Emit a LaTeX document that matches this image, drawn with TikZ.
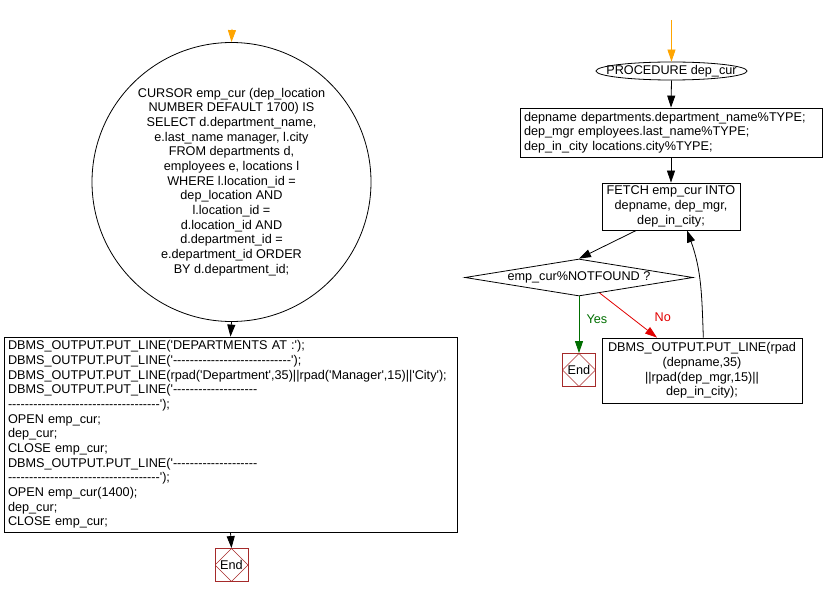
\documentclass[tikz,border=0pt]{standalone}
\usepackage{fontspec}
\newfontfamily\flowfont{Liberation Sans}
\usetikzlibrary{shapes.geometric,arrows.meta,calc}
\definecolor{startorange}{RGB}{255,165,0}
\definecolor{yesgreen}{RGB}{0,110,0}
\definecolor{nored}{RGB}{225,0,0}
\definecolor{endred}{RGB}{165,42,42}

\begin{document}
\begin{tikzpicture}[x=0.75pt,y=0.75pt,font=\flowfont\fontsize{9.5}{11}\selectfont,
  >={Triangle[length=9pt,width=6pt]}, line width=0.6pt]
\path[use as bounding box] (0,0) rectangle (824,597);
\tikzstyle{stmt}=[draw, inner sep=1pt, align=center]
\tikzstyle{code}=[draw, inner xsep=3pt, inner ysep=1pt, align=left]
\tikzstyle{endbox}=[draw=endred, minimum size=24.75pt, inner sep=0pt,
  path picture={\draw[endred, line width=0.4pt] (path picture bounding box.north) -- (path picture bounding box.east)
    -- (path picture bounding box.south) -- (path picture bounding box.west) -- cycle;}]

% left: cursor declaration and main block
\coordinate (startL) at (232,568);
\node[draw, circle, minimum size=209.25pt, inner sep=0pt, align=center] (cursor) at (231.5,415)
  {CURSOR emp\_cur (dep\_location\\NUMBER DEFAULT 1700) IS\\SELECT d.department\_name,\\e.last\_name manager, l.city\\FROM departments d,\\employees e, locations l\\WHERE l.location\_id =\\dep\_location AND\\l.location\_id =\\d.location\_id AND\\d.department\_id =\\e.department\_id ORDER\\BY d.department\_id;};
\node[code, text width=333.75pt, minimum height=146.25pt] (mainblk) at (230.5,162.5)
  {DBMS\_OUTPUT.PUT\_LINE('DEPARTMENTS AT :');\\
   DBMS\_OUTPUT.PUT\_LINE('----------------------------');\\
   DBMS\_OUTPUT.PUT\_LINE(rpad('Department',35)||rpad('Manager',15)||'City');\\
   DBMS\_OUTPUT.PUT\_LINE('--------------------\\
   ------------------------------------');\\
   OPEN emp\_cur;\\
   dep\_cur;\\
   CLOSE emp\_cur;\\
   DBMS\_OUTPUT.PUT\_LINE('--------------------\\
   ------------------------------------');\\
   OPEN emp\_cur(1400);\\
   dep\_cur;\\
   CLOSE emp\_cur;};
\node[endbox] (endL) at (231.5,32) {End};

\draw[->, startorange] (startL) -- (cursor.north);
\draw[->] (cursor.south) -- (mainblk.north);
\draw[->] (mainblk.south) -- (endL.north);

% right: procedure dep_cur
\coordinate (startR) at (671.5,577);
\node[draw, ellipse, minimum width=113.25pt, minimum height=13.5pt, inner sep=0pt,
  label={center:PROCEDURE dep\_cur}] (proc) at (671.5,526) {};
\node[code, text width=220.5pt, minimum height=36.75pt] (decl) at (671,464.5)
  {depname departments.department\_name\%TYPE;\\dep\_mgr employees.last\_name\%TYPE;\\dep\_in\_city locations.city\%TYPE;};
\node[stmt, minimum width=103.5pt, minimum height=35.25pt] (fetch) at (671,390.5)
  {FETCH emp\_cur INTO\\depname, dep\_mgr,\\dep\_in\_city;};
\node[draw, diamond, aspect=6.2, inner sep=0pt, minimum width=171pt, minimum height=27.75pt] (cond) at (579,319.5)
  {emp\_cur\%NOTFOUND ?};
\node[endbox] (endR) at (579,227) {End};
\node[stmt, minimum width=150pt, minimum height=48.75pt] (putline) at (702,226.5)
  {DBMS\_OUTPUT.PUT\_LINE(rpad\\(depname,35)\\||rpad(dep\_mgr,15)||\\dep\_in\_city);};

\draw[->, startorange] (startR) -- (proc.north);
\draw[->] (proc.south) -- (decl.north);
\draw[->] (decl.south) -- (fetch.north);
\draw[->] ([xshift=-26pt]fetch.south) -- (cond.north);
\draw[->, yesgreen] (cond.south) -- node[right, pos=0.4, xshift=2pt, yesgreen] {Yes} (endR.north);
\draw[->, nored] ($(cond.south)!0.18!(cond.east)$) -- node[right, pos=0.55, xshift=14pt, nored] {No} ([xshift=-33.75pt]putline.north);
\draw[->] ([xshift=1pt]putline.north) to[out=92, in=-70] ([xshift=12pt]fetch.south);
\end{tikzpicture}
\end{document}
